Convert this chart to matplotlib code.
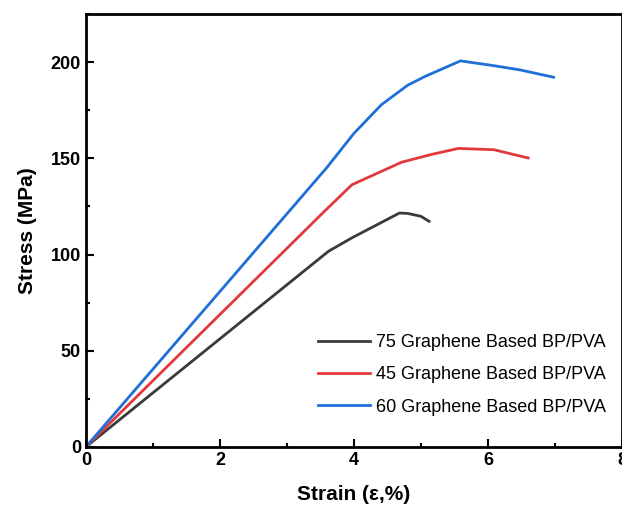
import matplotlib.pyplot as plt
from matplotlib.ticker import MultipleLocator

plt.rcParams['font.family'] = ['Liberation Sans', 'DejaVu Sans']

# strain (%) / stress (MPa)
strain_75 = [0, 3.62, 3.97, 4.68, 4.8, 5.0, 5.12]
stress_75 = [0, 101.7, 108.7, 121.6, 121.4, 119.9, 117.3]

strain_45 = [0, 3.56, 3.97, 4.71, 5.15, 5.56, 6.09, 6.6]
stress_45 = [0, 122.5, 136.3, 148, 152, 155.2, 154.5, 150.2]

strain_60 = [0, 3.59, 4.0, 4.41, 4.8, 5.06, 5.59, 6.09, 6.48, 6.98]
stress_60 = [0, 145, 163, 177.9, 188, 192.6, 200.7, 198.2, 196, 192.2]

labels = ['75 Graphene Based BP/PVA', '45 Graphene Based BP/PVA', '60 Graphene Based BP/PVA']
colors = ['#3a3a3a', '#e23a3c', '#1f6fd8']

fig = plt.figure(figsize=(6.22, 5.05), dpi=100)
ax = fig.add_axes([0.138, 0.115, 0.862, 0.857])

ax.plot(strain_75, stress_75, color=colors[0], lw=2, label=labels[0])
ax.plot(strain_45, stress_45, color=colors[1], lw=2, label=labels[1])
ax.plot(strain_60, stress_60, color=colors[2], lw=2, label=labels[2])

ax.set_xlim(0, 8)
ax.set_ylim(0, 225)
ax.xaxis.set_major_locator(MultipleLocator(2))
ax.xaxis.set_minor_locator(MultipleLocator(1))
ax.yaxis.set_major_locator(MultipleLocator(50))
ax.yaxis.set_minor_locator(MultipleLocator(25))
ax.tick_params(which='major', direction='in', length=6, width=1.5, labelsize=13)
ax.tick_params(which='minor', direction='in', length=3, width=1.5)
for lab in ax.get_xticklabels() + ax.get_yticklabels():
    lab.set_fontweight('bold')
for sp in ax.spines.values():
    sp.set_linewidth(2)

ax.set_xlabel('Strain (ε,%)', fontsize=15, fontweight='bold', labelpad=12)
ax.set_ylabel('Stress (MPa)', fontsize=15, fontweight='bold', labelpad=10)

ax.legend(loc='lower right', frameon=False, fontsize=13, handlelength=2.9,
          labelspacing=0.85, handletextpad=0.3, bbox_to_anchor=(1.0, 0.035))

fig.savefig('out.png', dpi=100)
